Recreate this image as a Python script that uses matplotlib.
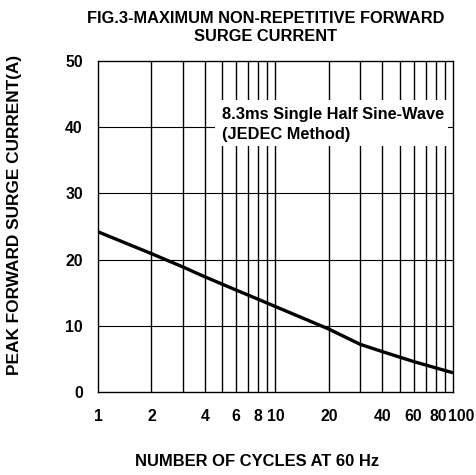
import matplotlib
matplotlib.use("Agg")
import matplotlib.pyplot as plt
import matplotlib.transforms as mtransforms
from matplotlib.patches import Rectangle
from matplotlib.ticker import FixedLocator, NullFormatter, NullLocator

plt.rcParams['font.family'] = ['Liberation Sans', 'DejaVu Sans']
plt.rcParams['font.weight'] = 'bold'

cycles = [1, 2, 3, 4, 6, 8, 10, 20, 30, 40, 60, 100]
current = [24.2, 20.9, 18.9, 17.4, 15.4, 14.0, 12.9, 9.5, 7.2, 6.1, 4.6, 2.9]
xticks = [1, 2, 4, 6, 8, 10, 20, 40, 60, 80, 100]
xgrid = [2, 3, 4, 5, 6, 7, 8, 9, 10, 20, 30, 40, 50, 60, 70, 80, 90]
yticks = [0, 10, 20, 30, 40, 50]

fig = plt.figure(figsize=(4.77, 4.75), dpi=100)
ax = fig.add_axes([98/477, 1-392/475, 355/477, 331/475])
ax.set_xscale('log')
ax.set_xlim(1, 100)
ax.set_ylim(0, 50)

for g in xgrid:
    ax.axvline(g, color='black', lw=1.0, zorder=1)
for y in yticks[1:-1]:
    ax.axhline(y, color='black', lw=0.8, zorder=1)

# white area behind the annotation
ax.add_patch(Rectangle((4.56, 37.2), 93.7 - 4.56, 44.1 - 37.2, fc='white', ec='none', zorder=1.5))

ax.plot(cycles, current, color='black', lw=2.4, zorder=3, solid_capstyle='butt')

ax.xaxis.set_major_locator(FixedLocator(xticks))
ax.xaxis.set_minor_locator(NullLocator())
ax.xaxis.set_minor_formatter(NullFormatter())
ax.set_xticks(xticks)
ax.set_xticklabels([str(t) for t in xticks])
ax.set_yticks(yticks)
ax.tick_params(axis='both', length=0, labelsize=11.3)
ax.tick_params(axis='x', pad=12)
ax.tick_params(axis='y', pad=11)
for s in ax.spines.values():
    s.set_linewidth(1.0)
    s.set_zorder(2)

# nudge the crowded end labels like the reference
shifts = {80: 2.5, 100: 8.0}
for lab, t in zip(ax.get_xticklabels(), xticks):
    if t in shifts:
        lab.set_transform(lab.get_transform() +
                          mtransforms.ScaledTranslation(shifts[t] / 100, 0, fig.dpi_scale_trans))

ax.text(5.0, 40.4, "8.3ms Single Half Sine-Wave\n(JEDEC Method)", fontsize=11.8,
        fontweight='bold', ha='left', va='center', linespacing=1.45, zorder=2)

fig.text(266/477, 1-27.5/475, "FIG.3-MAXIMUM NON-REPETITIVE FORWARD\nSURGE CURRENT",
         ha='center', va='center', fontsize=11.8, fontweight='bold', linespacing=1.25)
fig.text(257/477, 1-462/475, "NUMBER OF CYCLES AT 60 Hz", ha='center', va='center',
         fontsize=11.9, fontweight='bold')
fig.text(15/477, 1-214.5/475, "PEAK FORWARD SURGE CURRENT(A)", ha='center', va='center',
         rotation=90, fontsize=12.4, fontweight='bold')

fig.savefig("out.png", dpi=100)
